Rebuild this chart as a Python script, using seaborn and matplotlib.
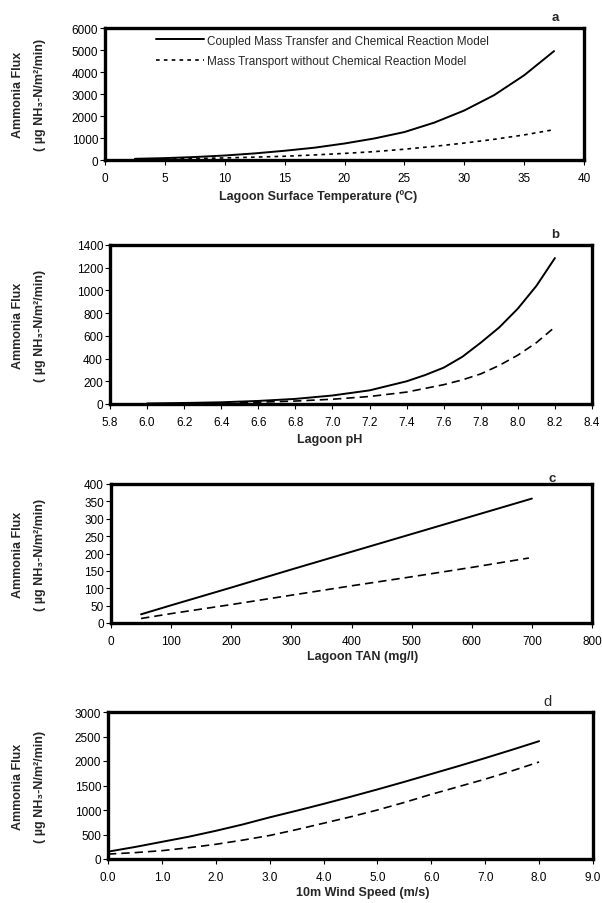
import numpy as np
import pandas as pd
import matplotlib
matplotlib.use("Agg")
import matplotlib.pyplot as plt
import seaborn as sns

# panel a: lagoon surface temperature (C)
temp_coupled = [2.5, 5, 7.5, 10, 12.5, 15, 17.5, 20, 22.5, 25, 27.5, 30, 32.5, 35, 37.5]
flux_a_coupled = [55, 85, 135, 205, 300, 420, 560, 750, 980, 1270, 1700, 2250, 2950, 3850, 4950]
temp_transport = [5, 7.5, 10, 12.5, 15, 17.5, 20, 22.5, 25, 27.5, 30, 32.5, 35, 37.5]
flux_a_transport = [40, 65, 95, 130, 170, 230, 300, 380, 490, 620, 770, 940, 1140, 1380]

# panel b: lagoon pH
ph_coupled = [6.0, 6.2, 6.4, 6.6, 6.8, 7.0, 7.2, 7.4, 7.5, 7.6, 7.7, 7.8, 7.9, 8.0, 8.1, 8.2]
flux_b_coupled = [5, 9, 15, 27, 45, 75, 120, 200, 255, 320, 415, 540, 675, 840, 1040, 1285]
ph_transport = [6.5, 6.6, 6.8, 7.0, 7.2, 7.4, 7.6, 7.7, 7.8, 7.9, 8.0, 8.1, 8.2]
flux_b_transport = [12, 16, 26, 42, 66, 105, 170, 212, 265, 340, 430, 540, 678]

# panel c: lagoon TAN (mg/l)
tan_coupled = [50, 100, 200, 300, 400, 500, 600, 700]
flux_c_coupled = [25, 51, 102, 154, 205, 256, 307, 358]
tan_transport = [50, 100, 200, 300, 400, 500, 600, 695]
flux_c_transport = [13, 27, 53, 80, 107, 133, 160, 187]

# panel d: 10 m wind speed (m/s)
wind = [0.0, 0.5, 1.0, 1.5, 2.0, 2.5, 3.0, 3.5, 4.0, 4.5, 5.0, 5.5, 6.0, 6.5, 7.0, 7.5, 8.0]
flux_d_coupled = [150, 245, 350, 455, 575, 705, 850, 985, 1125, 1270, 1420, 1575, 1735, 1895, 2060, 2230, 2405]
flux_d_transport = [100, 130, 170, 230, 300, 385, 480, 600, 730, 860, 1000, 1155, 1320, 1475, 1630, 1800, 1980]

label_coupled = "Coupled Mass Transfer and Chemical Reaction Model"
label_transport = "Mass Transport without Chemical Reaction Model"

sns.set_style("ticks")
plt.rcParams["font.family"] = ["Liberation Sans", "DejaVu Sans"]

W, H = 602, 904
fig = plt.figure(figsize=(W / 100, H / 100), dpi=100)


def make_ax(left, right, top, bottom):
    return fig.add_axes([left / W, 1 - bottom / H, (right - left) / W, (bottom - top) / H])


panels = [
    dict(box=(105, 584, 29, 161), xc=temp_coupled, yc=flux_a_coupled, xt=temp_transport, yt=flux_a_transport,
         xlim=(0, 40), xticks=np.arange(0, 41, 5), xfmt="{:.0f}", ylim=(0, 6000), yticks=np.arange(0, 6001, 1000),
         xlabel="Lagoon Surface Temperature (ºC)", xlx=0.445, lpad=3.0, dash=(0, (2.2, 2.5)),
         letter="a", lxy=(555, 18), lbold=True),
    dict(box=(110, 592, 246, 405), xc=ph_coupled, yc=flux_b_coupled, xt=ph_transport, yt=flux_b_transport,
         xlim=(5.8, 8.4), xticks=np.arange(5.8, 8.41, 0.2), xfmt="{:.1f}", ylim=(0, 1400), yticks=np.arange(0, 1401, 200),
         xlabel="Lagoon pH", xlx=0.456, lpad=3.0, dash=(0, (5, 3)),
         letter="b", lxy=(555, 235), lbold=True),
    dict(box=(111, 592, 485, 624), xc=tan_coupled, yc=flux_c_coupled, xt=tan_transport, yt=flux_c_transport,
         xlim=(0, 800), xticks=np.arange(0, 801, 100), xfmt="{:.0f}", ylim=(0, 400), yticks=np.arange(0, 401, 50),
         xlabel="Lagoon TAN (mg/l)", xlx=0.524, lpad=1.5, dash=(0, (5, 3)),
         letter="c", lxy=(552, 479), lbold=True),
    dict(box=(108, 593, 713, 860), xc=wind, yc=flux_d_coupled, xt=wind, yt=flux_d_transport,
         xlim=(0, 9), xticks=np.arange(0, 9.01, 1.0), xfmt="{:.1f}", ylim=(0, 3000), yticks=np.arange(0, 3001, 500),
         xlabel="10m Wind Speed (m/s)", xlx=0.526, lpad=1.5, dash=(0, (5, 3)),
         letter="d", lxy=(547, 702), lbold=False),
]

for p in panels:
    left, right, top, bottom = p["box"]
    ax = make_ax(left, right, top, bottom)
    sns.lineplot(x=p["xc"], y=p["yc"], ax=ax, color="black", lw=1.4, label=label_coupled)
    sns.lineplot(x=p["xt"], y=p["yt"], ax=ax, color="black", lw=1.2, linestyle=p["dash"], label=label_transport)

    ax.set_xlim(*p["xlim"])
    ax.set_ylim(*p["ylim"])
    ax.set_xticks(p["xticks"])
    ax.set_xticklabels([p["xfmt"].format(v) for v in p["xticks"]])
    ax.set_yticks(p["yticks"])
    ax.set_yticklabels([f"{v:.0f}" for v in p["yticks"]])
    ax.tick_params(axis="x", direction="out", length=3.5, width=0.8, pad=5.5, labelsize=8.5, colors="black")
    ax.tick_params(axis="y", direction="out", length=3.5, width=0.8, pad=1.5, labelsize=8.5, colors="black")
    for s in ax.spines.values():
        s.set_visible(True)
        s.set_linewidth(2.4)
        s.set_color("black")

    ax.set_xlabel(p["xlabel"], fontsize=9, fontweight="bold", labelpad=p["lpad"], x=p["xlx"])
    ax.set_ylabel("")

    yc = 1 - (top + bottom) / 2 / H
    fig.text(18 / W, yc, "Ammonia Flux", rotation=90, ha="center", va="center",
             fontsize=9, fontweight="bold")
    fig.text(40 / W, yc, "( µg NH₃-N/m²/min)", rotation=90, ha="center", va="center",
             fontsize=9, fontweight="bold")
    fig.text(p["lxy"][0] / W, 1 - p["lxy"][1] / H, p["letter"], ha="center", va="center",
             fontsize=9.5 if p["lbold"] else 10.5, fontweight="bold" if p["lbold"] else "normal")

    if p["letter"] == "a":
        ax.legend(loc="upper left", bbox_to_anchor=(0.106, 0.95), frameon=False, fontsize=8.5,
                  handlelength=4.1, handletextpad=0.2, labelspacing=0.7, borderpad=0, borderaxespad=0)
    else:
        ax.get_legend().remove()

fig.savefig("out.png", dpi=100)
